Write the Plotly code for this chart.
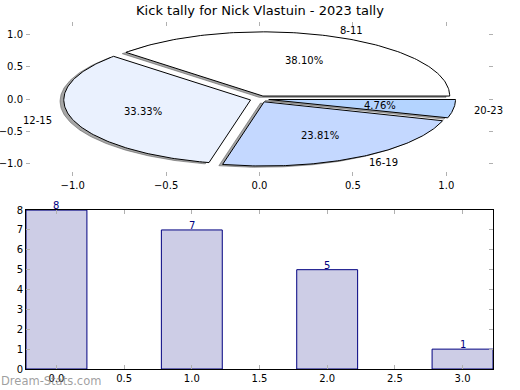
import numpy as np
import plotly.graph_objects as go

title = "Kick tally for Nick Vlastuin - 2023 tally"
labels = ["8-11", "12-15", "16-19", "20-23"]
counts = [8, 7, 5, 1]
slice_colors = ["#ffffff", "#eaf1fe", "#c4d8ff", "#b4d4ff"]
bar_x = [0, 1, 2, 3]
bar_vals = [8, 7, 5, 1]

explode = 0.05
shadow_off = (-0.02, -0.02)
FONT = "DejaVu Sans"

fig = go.Figure()

total = sum(counts)
fracs = [c / total for c in counts]
wedges = []
start = 0.0
for f in fracs:
    t1, t2 = start, start + 360 * f
    wedges.append((t1, t2))
    start = t2


def wedge_xy(t1, t2, cx, cy):
    th = np.radians(np.linspace(t1, t2, 120))
    xs = np.concatenate([[cx], cx + np.cos(th), [cx]])
    ys = np.concatenate([[cy], cy + np.sin(th), [cy]])
    return xs, ys


centers = []
for (t1, t2) in wedges:
    mid = np.radians((t1 + t2) / 2)
    centers.append((explode * np.cos(mid), explode * np.sin(mid), mid))

# shadows first
for (t1, t2), (cx, cy, mid) in zip(wedges, centers):
    xs, ys = wedge_xy(t1, t2, cx + shadow_off[0], cy + shadow_off[1])
    fig.add_trace(go.Scatter(x=xs, y=ys, fill="toself", mode="lines",
                             fillcolor="rgba(77,77,77,0.5)",
                             line=dict(color="rgba(77,77,77,0.5)", width=1),
                             hoverinfo="skip", showlegend=False,
                             xaxis="x", yaxis="y"))
for (t1, t2), (cx, cy, mid), col in zip(wedges, centers, slice_colors):
    xs, ys = wedge_xy(t1, t2, cx, cy)
    fig.add_trace(go.Scatter(x=xs, y=ys, fill="toself", mode="lines",
                             fillcolor=col, line=dict(color="black", width=1),
                             hoverinfo="skip", showlegend=False,
                             xaxis="x", yaxis="y"))

annotations = []
for lab, f, (cx, cy, mid) in zip(labels, fracs, centers):
    lx = cx + 1.1 * np.cos(mid)
    ly = cy + 1.1 * np.sin(mid)
    annotations.append(dict(x=lx, y=ly, xref="x", yref="y", text=lab,
                            showarrow=False, xanchor="left" if lx > 0 else "right",
                            yanchor="middle", font=dict(family=FONT, size=10, color="black")))
    px = cx + 0.6 * np.cos(mid)
    py = cy + 0.6 * np.sin(mid)
    annotations.append(dict(x=px, y=py, xref="x", yref="y", text=f"{f*100:.2f}%",
                            showarrow=False, xanchor="center", yanchor="middle",
                            font=dict(family=FONT, size=10, color="black")))

fig.add_trace(go.Bar(x=bar_x, y=bar_vals, width=0.45,
                     marker=dict(color="#cdcde6", line=dict(color="#000080", width=1)),
                     hoverinfo="skip", showlegend=False, xaxis="x2", yaxis="y2"))
for xv, yv in zip(bar_x, bar_vals):
    annotations.append(dict(x=xv, y=yv, xref="x2", yref="y2", text=str(yv),
                            showarrow=False, xanchor="center", yanchor="bottom", yshift=-3,
                            font=dict(family=FONT, size=10, color="#000080")))

annotations.append(dict(x=0, y=0, xref="paper", yref="paper", text="Dream-Stats.com",
                        showarrow=False, xanchor="left", yanchor="top", xshift=-27, yshift=-3,
                        font=dict(family=FONT, size=11.5, color="rgba(128,128,128,0.75)")))


def tv(vals, fmt):
    return [fmt.format(v).replace("-", "\u2212") for v in vals]


pie_ticks = [-1.0, -0.5, 0.0, 0.5, 1.0]
bar_xticks = [0, 0.5, 1, 1.5, 2, 2.5, 3]
bar_yticks = list(range(0, 9))

common = dict(ticks="inside", ticklen=4, tickcolor="#b0b0b0", showgrid=False,
              zeroline=False, automargin=False, mirror="ticks",
              tickfont=dict(family=FONT, size=10, color="black"))

fig.update_layout(
    width=520, height=390,
    margin=dict(l=26, r=27, t=22, b=21, autoexpand=False),
    paper_bgcolor="white", plot_bgcolor="white",
    title=dict(text=title, x=0.5, xanchor="center", y=0.985, yanchor="top",
               automargin=False, font=dict(family=FONT, size=13, color="black")),
    xaxis=dict(domain=[0, 1], anchor="y", range=[-1.25, 1.25], tickvals=pie_ticks,
               ticktext=tv(pie_ticks, "{:.1f}"), showline=True,
               linecolor="rgba(0,0,0,0)", **common),
    yaxis=dict(domain=[0.556, 1], anchor="x", range=[-1.2, 1.2], tickvals=pie_ticks,
               ticktext=tv(pie_ticks, "{:.1f}"), showline=True,
               linecolor="rgba(0,0,0,0)", **common),
    xaxis2=dict(domain=[0, 1], anchor="y2", range=[-0.225, 3.225], tickvals=bar_xticks,
                ticktext=tv(bar_xticks, "{:.1f}"), showline=True, linecolor="black",
                linewidth=1, **common),
    yaxis2=dict(domain=[0, 0.458], anchor="x2", range=[0, 8], tickvals=bar_yticks,
                showline=True, linecolor="black", linewidth=1, **common),
    annotations=annotations,
)

fig.write_html("out.html", config={"displayModeBar": False},
               post_script="document.body.style.margin='0';")
